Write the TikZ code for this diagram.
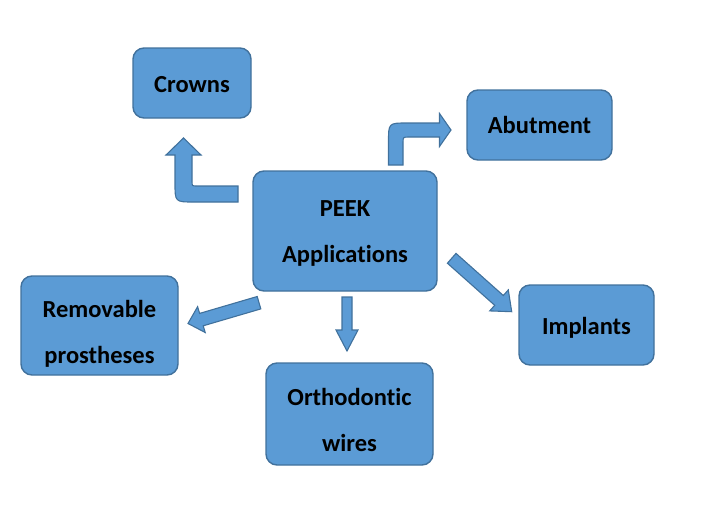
\documentclass[tikz,border=0pt]{standalone}
\usepackage{fontspec}
\setmainfont{Carlito}[Ligatures=NoCommon]
\definecolor{peekfill}{HTML}{5B9BD5}
\definecolor{peekline}{HTML}{41719C}

\begin{document}
\begin{tikzpicture}[x=1pt,y=-1pt,
	box/.style={draw=peekline,line width=1.4pt,fill=peekfill,rounded corners=11pt},
	lbl/.style={align=center,font=\fontsize{24.5}{46}\selectfont\bfseries},
	blockarrow/.style={draw=peekline,line width=1.1pt,fill=peekfill,line join=miter}]
\useasboundingbox (0,0) rectangle (722,517);
% boxes
\node[box,minimum width=118pt,minimum height=70pt,label={[lbl,yshift=-2pt]center:Crowns}] (crowns) at (192,83) {};
\node[box,minimum width=145pt,minimum height=70pt,label={[lbl]center:Abutment}] (abutment) at (539.5,125) {};
\node[box,minimum width=184pt,minimum height=120pt,label={[lbl,yshift=-2.5pt]center:{PEEK\\Applications}}] (peek) at (345,231) {};
\node[box,minimum width=157pt,minimum height=99pt,label={[lbl,yshift=-8pt]center:{Removable\\prostheses}}] (removable) at (99.5,325.5) {};
\node[box,minimum width=135pt,minimum height=80pt,label={[lbl,yshift=-3pt]center:Implants}] (implants) at (586.5,325) {};
\node[box,minimum width=167pt,minimum height=102pt,label={[lbl,yshift=-6pt]center:{Orthodontic\\wires}}] (wires) at (349.5,414) {};
% bent arrows
\filldraw[blockarrow] (238,186) -- (197,186) .. controls (192,186) .. (192,181) -- (192,155) -- (201,155)
	-- (183.5,138) -- (166,155) -- (175,155) -- (175,183) .. controls (175,202) .. (194,202) -- (238,202) -- cycle;
\filldraw[blockarrow] (388.5,165) -- (388.5,142) .. controls (388.5,123) .. (407,123) -- (439.5,123) -- (439.5,113.5)
	-- (451,130) -- (439.5,146.5) -- (439.5,137) -- (409,137) .. controls (403,137) .. (403,143) -- (403,165) -- cycle;
% straight arrows
\filldraw[blockarrow] (257.2,296.5) -- (199.6,313.4) -- (197.6,306.7) -- (188,323.5) -- (205.2,332.5) -- (203.2,325.8) -- (260.8,308.9) -- cycle;
\filldraw[blockarrow] (456,253.4) -- (503.3,295.5) -- (508.3,289.9) -- (511.7,311.7) -- (489.7,310.9) -- (494.7,305.3) -- (447.4,263.2) -- cycle;
\filldraw[blockarrow] (342,297) -- (352,297) -- (352,330) -- (358,330) -- (347,351) -- (336,330) -- (342,330) -- cycle;
\end{tikzpicture}
\end{document}
